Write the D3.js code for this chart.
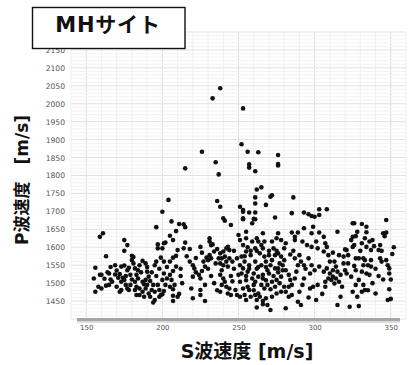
<!DOCTYPE html>
<html>
<head>
<meta charset="utf-8">
<script src="https://cdn.jsdelivr.net/npm/d3@7"></script>
<style>
body { margin: 0; background: #fff; }
svg { display: block; font-family: "DejaVu Sans", "Noto Sans CJK JP", sans-serif; }
</style>
</head>
<body>
<svg width="411" height="365"></svg>
<script>
// tick labels
const xTicks = [150, 200, 250, 300, 350];
const yTicks = [1450, 1500, 1550, 1600, 1650, 1700, 1750, 1800, 1850, 1900, 1950, 2000, 2050, 2100, 2150];

// S波速度, P波速度 [m/s], grouped by region
const leftGroup = [
  [156,1543],[155,1513],[156,1476],[158,1490],[159,1523],[159,1629],[160,1485],[160,1523],[161,1639],[163,1575],
  [163,1493],[164,1530],[165,1527],[165,1495],[166,1510],[167,1504],[169,1550],[169,1524],[170,1490],[171,1515],
  [172,1476],[173,1546],[174,1515],[173,1504],[173,1481],[175,1620],[175,1590],[175,1549],[175,1509],[176,1495],
  [177,1536],[177,1606],[177,1485],[178,1543],[178,1481],[179,1523],[180,1576],[180,1564],[181,1573],[181,1555],
  [182,1541],[182,1504],[182,1481],[183,1467],[183,1523],[184,1513],[184,1536],[185,1550],[185,1467],[187,1504],
  [187,1562],[188,1462],[187,1476],[188,1497],[189,1555],[189,1485],[189,1509],[190,1532],[191,1518],[191,1471],
  [192,1462],[192,1506],[193,1481],[194,1495],[195,1550],[195,1476],[195,1453],[194,1446],[196,1560],[196,1656],
  [197,1495],[197,1608],[197,1597],[198,1481],[199,1571],[199,1467],[198,1462],[200,1469],
  [170,1535],[172,1525],[176,1520],[180,1510],[183,1490],[186,1530],[190,1545],[193,1530],[196,1520],[198,1540],
  [166,1545],[162,1512],[179,1495],[185,1485],[190,1495]
];
const midGroup = [
  [200,1597],[201,1611],[202,1613],[201,1560],[201,1527],[200,1509],[202,1495],[201,1478],[203,1513],[205,1523],
  [205,1632],[205,1560],[206,1509],[207,1620],[207,1571],[207,1534],[207,1483],[207,1465],[207,1450],[208,1495],
  [209,1546],[209,1576],[209,1645],[210,1462],[210,1592],[211,1665],[212,1540],[213,1500],[211,1470],[214,1664],
  [214,1597],[215,1656],[215,1613],[218,1560],[218,1595],[219,1485],[220,1550],[220,1518],[220,1458],[221,1541],
  [222,1530],[224,1523],[225,1481],[225,1467],[225,1513],[225,1601],[226,1534],[227,1560],[228,1546],[228,1495],
  [229,1571],[230,1564],[231,1625],[231,1616],[232,1606],[232,1569],[231,1578],[233,1608],[234,1588],[236,1595],
  [237,1569],[238,1583],[238,1555],[238,1523],[238,1476],[239,1569],[239,1536],[239,1495],[240,1588],[240,1550],
  [240,1513],[241,1574],[241,1504],[242,1597],[242,1560],[242,1490],[243,1601],[243,1546],[243,1471],[244,1592],
  [244,1569],[244,1485],[245,1467],[246,1560],[248,1481],[249,1467],[249,1569],[250,1523],[251,1462],[251,1504],
  [251,1550],[200,1699],[204,1732],[206,1672],[240,1681],[241,1674],[245,1662],[250,1634],
  [203,1545],[205,1490],[212,1520],[216,1575],[222,1570],[230,1540],[232,1520],[234,1500],[235,1555],[236,1480],
  [245,1520],[247,1540],[247,1590],[246,1505],[226,1585],[228,1450]
];
const denseGroup = [
  [252,1527],[252,1574],[253,1541],[253,1485],[253,1606],[251,1620],[254,1467],[254,1560],[255,1588],[255,1520],
  [255,1508],[256,1490],[258,1578],[261,1597],[264,1583],[267,1574],[268,1560],[265,1550],[261,1560],[257,1550],
  [256,1532],[260,1527],[263,1518],[266,1523],[269,1536],[272,1564],[274,1578],[276,1583],[278,1574],[277,1555],
  [276,1541],[279,1550],[280,1564],[281,1536],[278,1518],[275,1509],[272,1504],[269,1495],[267,1485],[265,1495],
  [263,1471],[261,1467],[264,1462],[268,1458],[269,1439],[266,1441],[271,1425],[262,1453],[283,1523],[284,1509],
  [283,1490],[281,1476],[285,1495],[287,1513],[288,1532],[289,1550],[287,1569],[290,1578],[291,1560],[293,1550],
  [296,1569],[298,1550],[297,1527],[300,1536],[303,1546],[306,1532],[308,1541],[310,1527],[309,1513],[307,1504],
  [302,1495],[299,1490],[297,1485],[293,1513],[292,1495],[290,1476],[289,1448],[291,1439],[285,1467],[283,1462],
  [281,1430],[301,1453],[307,1490],[260,1495],[257,1481],[261,1504],[263,1616],[265,1606],[272,1616],[278,1620],
  [281,1611],[280,1597],[287,1620],[292,1616],[295,1606],[298,1601],[301,1616],[302,1597],[306,1588],[308,1601],
  [309,1578],
  [262,1590],[266,1597],[270,1590],[273,1597],[275,1590],[270,1578],[268,1545],[271,1550],[274,1541],[270,1527],
  [273,1520],[276,1530],[279,1536],[262,1540],[259,1513],[257,1540],[254,1575],[256,1600],[258,1590],[263,1545],
  [266,1513],[268,1508],[271,1483],[274,1490],[277,1500],[280,1490],[278,1476],[275,1471],[272,1462],[260,1480],
  [255,1453],[258,1462],[262,1432],[266,1450],[294,1540],[286,1590],[284,1580],[296,1460],[305,1470],[310,1560]
];
const upperGroup = [
  [251,1713],[253,1704],[253,1699],[257,1697],[261,1697],[253,1681],[253,1678],[261,1678],[274,1683],[285,1695],
  [293,1697],[296,1692],[298,1687],[300,1685],[303,1690],[255,1643],[255,1625],[259,1616],[262,1625],[266,1639],
  [267,1616],[276,1639],[275,1625],[285,1641],[287,1629],[289,1641],[293,1653],[299,1657],[298,1639],[303,1641],
  [306,1629],[307,1611],[315,1643],[260,1679],[259,1667]
];
const outliers = [
  [238,2043],[233,2015],[253,1987],[252,1887],[256,1866],[263,1865],[276,1857],[276,1832],[276,1828],[226,1866],
  [235,1837],[215,1820],[237,1803],[257,1831],[257,1822],[261,1812],[262,1761],[265,1767],[236,1729],[238,1713],
  [261,1739],[261,1722],[268,1718],[271,1741],[272,1745],[286,1739],[303,1706],[308,1706]
];
const rightGroup = [
  [347,1676],[326,1667],[331,1665],[334,1657],[325,1667],[328,1643],[334,1642],[345,1639],[347,1641],[346,1631],
  [325,1629],[327,1631],[324,1620],[333,1625],[336,1616],[338,1620],[339,1603],[343,1606],[342,1592],[337,1592],
  [334,1601],[331,1611],[326,1606],[325,1601],[321,1592],[320,1594],[312,1585],[316,1578],[319,1574],[322,1578],
  [327,1569],[329,1569],[332,1569],[333,1564],[337,1564],[343,1569],[344,1560],[347,1564],[348,1550],[349,1541],
  [351,1581],[349,1527],[313,1560],[314,1546],[312,1536],[315,1532],[319,1555],[320,1536],[317,1523],[314,1513],
  [311,1509],[313,1499],[316,1504],[324,1518],[321,1527],[327,1536],[331,1532],[334,1527],[336,1523],[332,1550],
  [335,1550],[337,1546],[329,1509],[332,1495],[327,1495],[325,1476],[328,1462],[331,1476],[333,1481],[317,1462],
  [315,1439],[323,1434],[329,1436],[340,1471],[349,1483],[348,1453],[350,1456],[312,1518],
  [318,1490],[322,1555],[326,1548],[340,1540],[342,1520],[345,1510],[338,1500],[335,1480],[344,1590],[352,1600],
  [350,1510],[330,1590]
];

const points = [].concat(leftGroup, midGroup, denseGroup, upperGroup, outliers, rightGroup);

const svg = d3.select('svg');

const x = d3.scaleLinear().domain([140, 360]).range([71, 406]);
const y = d3.scaleLinear().domain([1400, 2200]).range([319, 32]);

// grid
const grid = svg.append('g');
grid.selectAll('line.v')
  .data(d3.range(140, 361, 10))
  .enter().append('line')
  .attr('x1', d => x(d)).attr('x2', d => x(d))
  .attr('y1', y(2200)).attr('y2', y(1400))
  .attr('stroke', d => d % 50 === 0 ? '#dadada' : '#efefef')
  .attr('stroke-width', 1);
grid.selectAll('line.h')
  .data(d3.range(1400, 2201, 10))
  .enter().append('line')
  .attr('x1', x(140)).attr('x2', x(360))
  .attr('y1', d => y(d)).attr('y2', d => y(d))
  .attr('stroke', d => d % 50 === 0 ? '#e2e2e2' : '#f3f3f3')
  .attr('stroke-width', 1);

// bottom bar
svg.append('rect')
  .attr('x', 77).attr('y', y(1400) - 1)
  .attr('width', 323).attr('height', 3.5)
  .attr('fill', '#a6a6a6');
svg.append('rect')
  .attr('x', 77).attr('y', y(1400) + 2.5)
  .attr('width', 323).attr('height', 1.5)
  .attr('fill', '#dedede');

// axes
const yAxisG = svg.append('g')
  .attr('transform', `translate(${x(140)},0)`)
  .call(d3.axisLeft(y).tickValues(yTicks).tickFormat(d3.format('d')).tickSize(0).tickPadding(6));
yAxisG.select('.domain').remove();
yAxisG.selectAll('text').attr('font-size', 7.6).attr('fill', '#555').attr('font-family', 'DejaVu Sans');

const xAxisG = svg.append('g')
  .attr('transform', `translate(0,${y(1400)})`)
  .call(d3.axisBottom(x).tickValues(xTicks).tickFormat(d3.format('d')).tickSize(0).tickPadding(6));
xAxisG.select('.domain').remove();
xAxisG.selectAll('text').attr('font-size', 7).attr('fill', '#555').attr('font-family', 'DejaVu Sans');

// points
svg.append('g').selectAll('circle')
  .data(points)
  .enter().append('circle')
  .attr('cx', d => x(d[0]))
  .attr('cy', d => y(d[1]))
  .attr('r', 2.3)
  .attr('fill', '#111');

// title box
svg.append('rect')
  .attr('x', 32.5).attr('y', 7.5)
  .attr('width', 152.5).attr('height', 41)
  .attr('fill', '#fff')
  .attr('stroke', '#111')
  .attr('stroke-width', 1.4);
svg.append('text')
  .attr('x', 108).attr('y', 32)
  .attr('text-anchor', 'middle')
  .attr('font-size', 21)
  .attr('font-weight', 'bold')
  .attr('letter-spacing', 0.8)
  .attr('fill', '#111')
  .text('MHサイト');

// axis labels
svg.append('text')
  .attr('x', 247).attr('y', 358)
  .attr('text-anchor', 'middle')
  .attr('font-size', 19)
  .attr('font-weight', 'bold')
  .attr('fill', '#111')
  .text('S波速度 [m/s]');

svg.append('text')
  .attr('transform', 'translate(28,180) rotate(-90)')
  .attr('text-anchor', 'middle')
  .attr('font-size', 17)
  .attr('font-weight', 'bold')
  .attr('fill', '#111')
  .text('P波速度　[m/s]');
</script>
</body>
</html>
